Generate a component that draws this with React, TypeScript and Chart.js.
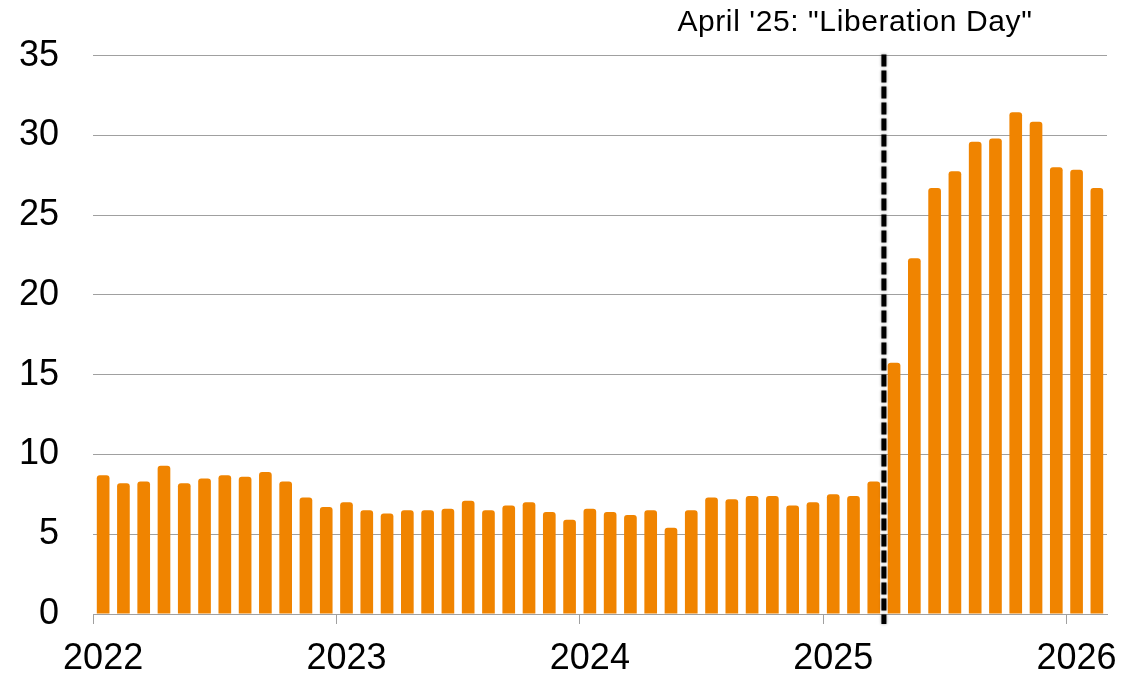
import React, { useEffect, useRef } from "react";
import { Chart, registerables } from "chart.js";

Chart.register(...registerables);

const categories = [
  "2022-01","2022-02","2022-03","2022-04","2022-05","2022-06","2022-07","2022-08","2022-09","2022-10","2022-11","2022-12",
  "2023-01","2023-02","2023-03","2023-04","2023-05","2023-06","2023-07","2023-08","2023-09","2023-10","2023-11","2023-12",
  "2024-01","2024-02","2024-03","2024-04","2024-05","2024-06","2024-07","2024-08","2024-09","2024-10","2024-11","2024-12",
  "2025-01","2025-02","2025-03","2025-04","2025-05","2025-06","2025-07","2025-08","2025-09","2025-10","2025-11","2025-12",
  "2026-01","2026-02",
];

const values = [
  8.7, 8.2, 8.3, 9.3, 8.2, 8.5, 8.7, 8.6, 8.9, 8.3, 7.3, 6.7,
  7.0, 6.5, 6.3, 6.5, 6.5, 6.6, 7.1, 6.5, 6.8, 7.0, 6.4, 5.9,
  6.6, 6.4, 6.2, 6.5, 5.4, 6.5, 7.3, 7.2, 7.4, 7.4, 6.8, 7.0,
  7.5, 7.4, 8.3, 15.75, 22.3, 26.7, 27.75, 29.6, 29.8, 31.45, 30.85, 28.0,
  27.85, 26.7,
];

const yearTickLabels = ["2022", "2023", "2024", "2025", "2026"];
const yTicks = [0, 5, 10, 15, 20, 25, 30, 35];

const markerCategory = "2025-04";
const markerText = "April '25: \"Liberation Day\"";

const FONT = "'Liberation Sans', Arial, sans-serif";
const BAR_COLOR = "#F08400";
const GRID_COLOR = "#a0a0a0";

const markerPlugin = {
  id: "markerPlugin",
  afterDatasetsDraw(chart: any) {
    const { ctx, chartArea, scales } = chart;
    const xs = scales.x;
    const idx = categories.indexOf(markerCategory);
    const x = (xs.getPixelForValue(idx - 1) + xs.getPixelForValue(idx)) / 2;
    ctx.save();
    ctx.strokeStyle = "#000000";
    ctx.lineWidth = 5;
    ctx.setLineDash([12, 4]);
    ctx.shadowColor = "rgba(0,0,0,0.4)";
    ctx.shadowBlur = 3;
    ctx.beginPath();
    ctx.moveTo(x, chartArea.top - 1);
    ctx.lineTo(x, chartArea.bottom + 10);
    ctx.stroke();
    ctx.restore();

    ctx.save();
    ctx.fillStyle = "#000000";
    ctx.font = `30px ${FONT}`;
    try { (ctx as any).letterSpacing = "0.6px"; } catch (e) {}
    ctx.textAlign = "center";
    ctx.textBaseline = "alphabetic";
    ctx.fillText(markerText, x - 29, 31);
    ctx.restore();
  },
};

export default function App() {
  const ref = useRef<HTMLCanvasElement>(null);
  useEffect(() => {
    document.body.style.margin = "0";
    const canvas = ref.current!;
    const chart = new Chart(canvas, {
      type: "bar",
      data: {
        labels: categories,
        datasets: [
          {
            data: values,
            backgroundColor: BAR_COLOR,
            borderWidth: 0,
            borderRadius: 3,
            barPercentage: 0.625,
            categoryPercentage: 1,
          },
        ],
      },
      options: {
        animation: false,
        responsive: true,
        maintainAspectRatio: false,
        layout: { padding: { top: 52, right: 38, left: 0, bottom: 0 } },
        plugins: { legend: { display: false }, tooltip: { enabled: false } },
        scales: {
          x: {
            afterFit: (s: any) => { s.height = 62; },
            grid: {
              drawOnChartArea: false,
              drawTicks: true,
              tickLength: 10,
              offset: true,
              color: (c: any) => (categories[c.index] && categories[c.index].endsWith("-01") ? GRID_COLOR : "rgba(0,0,0,0)"),
            },
            border: { display: true, color: GRID_COLOR, width: 1 },
            ticks: {
              autoSkip: false,
              maxRotation: 0,
              minRotation: 0,
              padding: 13,
              color: "#000000",
              font: { family: FONT, size: 36 },
              callback: (_v: any, i: number) => {
                const cat = categories[i];
                if (!cat.endsWith("-01")) return "";
                const y = cat.slice(0, 4);
                return yearTickLabels.includes(y) ? y : "";
              },
            },
          },
          y: {
            min: 0,
            max: 35,
            afterFit: (s: any) => { s.width = 93; },
            afterBuildTicks: (s: any) => { s.ticks = yTicks.map((v) => ({ value: v })); },
            grid: { color: GRID_COLOR, drawTicks: false, lineWidth: 1 },
            border: { display: false },
            ticks: {
              padding: 34,
              color: "#000000",
              font: { family: FONT, size: 36 },
            },
          },
        },
      },
      plugins: [markerPlugin],
    });
    return () => chart.destroy();
  }, []);
  return (
    <div style={{ position: "absolute", left: 0, top: 0, width: 1145, height: 676 }}>
      <canvas ref={ref} />
    </div>
  );
}
